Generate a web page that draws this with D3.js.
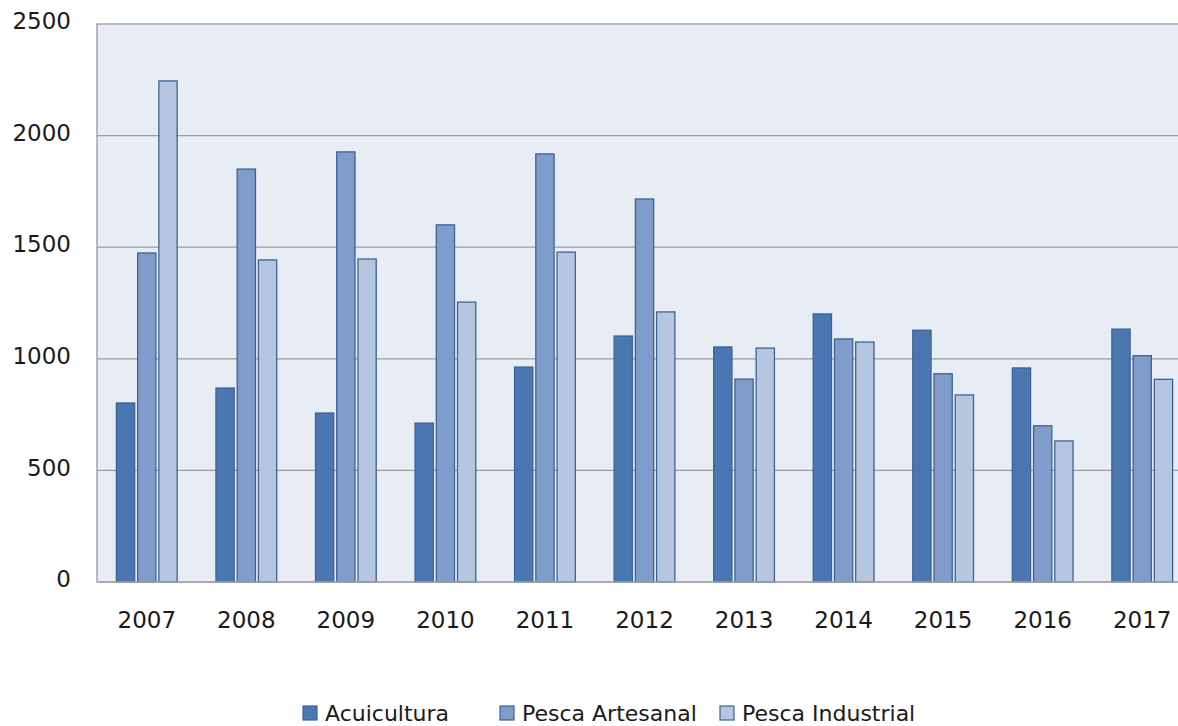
<!DOCTYPE html>
<html>
<head>
<meta charset="utf-8">
<script src="https://cdn.jsdelivr.net/npm/d3@7"></script>
<style>
  body { margin: 0; background: #fff; }
  svg text { font-family: "DejaVu Sans", sans-serif; fill: #1a1a1a; }
</style>
</head>
<body>
<svg id="chart"></svg>
<script>
// datos
var years = ["2007", "2008", "2009", "2010", "2011", "2012", "2013", "2014", "2015", "2016", "2017"];
var series = ["Acuicultura", "Pesca Artesanal", "Pesca Industrial"];
var acuicultura = [802, 869, 757, 712, 963, 1102, 1053, 1201, 1128, 959, 1133];
var artesanal = [1474, 1850, 1927, 1600, 1918, 1716, 909, 1089, 933, 700, 1014];
var industrial = [2245, 1443, 1447, 1254, 1478, 1210, 1048, 1075, 838, 632, 908];
var yTicks = [0, 500, 1000, 1500, 2000, 2500];

var values = [acuicultura, artesanal, industrial];
var colors = ["#4a77b1", "#7f9cca", "#b7c6e0"];

var width = 1178, height = 726;
var plotLeft = 97, plotTop = 24, plotRight = 1192, plotBottom = 582;

var svg = d3.select("#chart")
  .attr("width", width)
  .attr("height", height);

var x = d3.scaleBand()
  .domain(years)
  .range([plotLeft, plotRight])
  .paddingInner(0.39)
  .paddingOuter(0.195);

var xs = d3.scaleBand()
  .domain(series)
  .range([0, x.bandwidth()])
  .paddingInner(0.14);

var y = d3.scaleLinear()
  .domain([0, 2500])
  .range([plotBottom, plotTop]);

// fondo del area
svg.append("rect")
  .attr("x", plotLeft)
  .attr("y", plotTop)
  .attr("width", plotRight - plotLeft)
  .attr("height", plotBottom - plotTop)
  .attr("fill", "#e8ecf4")
  .attr("stroke", "#a6a6a6")
  .attr("stroke-width", 1.5);

// lineas de la grilla
svg.append("g")
  .selectAll("line")
  .data(yTicks.slice(1, -1))
  .enter().append("line")
  .attr("x1", plotLeft)
  .attr("x2", plotRight)
  .attr("y1", function(d) { return y(d); })
  .attr("y2", function(d) { return y(d); })
  .attr("stroke", "#9c9c9c")
  .attr("stroke-width", 1.3);

// barras
var groups = svg.append("g")
  .selectAll("g")
  .data(years)
  .enter().append("g")
  .attr("transform", function(d) { return "translate(" + x(d) + ",0)"; });

groups.selectAll("rect")
  .data(function(d, i) {
    return series.map(function(s, j) { return { s: s, j: j, v: values[j][i] }; });
  })
  .enter().append("rect")
  .attr("x", function(d) { return xs(d.s); })
  .attr("y", function(d) { return y(d.v); })
  .attr("width", xs.bandwidth())
  .attr("height", function(d) { return plotBottom - y(d.v); })
  .attr("fill", function(d) { return colors[d.j]; })
  .attr("stroke", "#3d6394")
  .attr("stroke-width", 1.3);

// eje inferior
svg.append("line")
  .attr("x1", plotLeft).attr("x2", plotRight)
  .attr("y1", plotBottom).attr("y2", plotBottom)
  .attr("stroke", "#a6a6a6")
  .attr("stroke-width", 1.5);

// eje y
var yAxis = svg.append("g")
  .attr("transform", "translate(71,0)")
  .call(d3.axisLeft(y).tickValues(yTicks).tickFormat(d3.format("d")).tickSize(0).tickPadding(0));
yAxis.select(".domain").remove();
yAxis.selectAll("text")
  .style("font-size", "23px")
  .attr("dy", "0.2em");

// eje x
var xAxis = svg.append("g")
  .attr("transform", "translate(0," + plotBottom + ")")
  .call(d3.axisBottom(x).tickSize(0).tickPadding(30));
xAxis.select(".domain").remove();
xAxis.selectAll("text")
  .style("font-size", "23px");

// leyenda
var legendX = [303, 500, 720];
var legend = svg.append("g")
  .selectAll("g")
  .data(series)
  .enter().append("g")
  .attr("transform", function(d, i) { return "translate(" + legendX[i] + ",706)"; });

legend.append("rect")
  .attr("width", 14)
  .attr("height", 14)
  .attr("fill", function(d, i) { return colors[i]; })
  .attr("stroke", "#3d6394")
  .attr("stroke-width", 1.2);

legend.append("text")
  .attr("x", 22)
  .attr("y", 7)
  .attr("dy", "0.35em")
  .style("font-size", "22px")
  .text(function(d) { return d; });
</script>
</body>
</html>
